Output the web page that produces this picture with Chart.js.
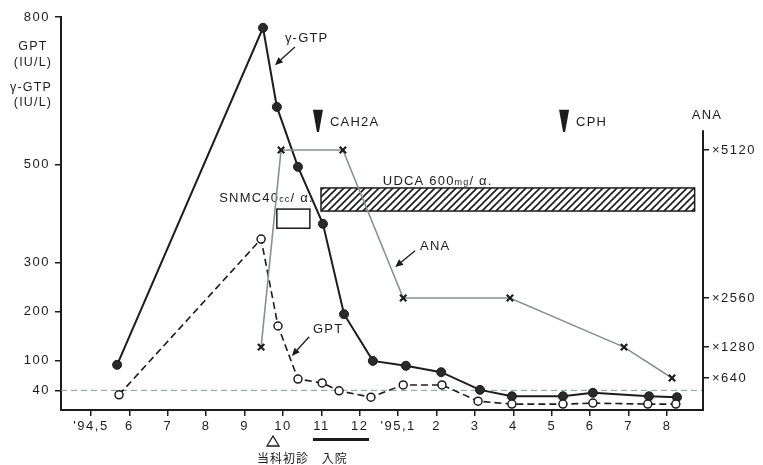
<!DOCTYPE html>
<html><head><meta charset="utf-8">
<script src="https://cdn.jsdelivr.net/npm/chart.js@4"></script>
<style>html,body{margin:0;padding:0;background:#fff}#wrap{width:763px;height:465px}</style>
</head><body><div id="wrap"><canvas id="c" width="763" height="465"></canvas></div>
<script>
// ---- data ----
const monthLabels = ["'94,5","6","7","8","9","10","11","12","'95,1","2","3","4","5","6","7","8"];
const monthTicks = [0,1,2,3,4,5,6,7,8,9,10,11,12,13,14,15];
const gtpMonths = [0.68,4.48,4.84,5.39,6.04,6.59,7.34,8.20,9.12,10.13,10.96,12.29,13.07,14.53,15.26];
const gtpValues = [92,778,617,495,379,195,100,90,77,41,28,28,35,28,26];
const gptMonths = [0.73,4.43,4.87,5.39,6.02,6.46,7.29,8.13,9.14,10.08,10.96,12.29,13.07,14.50,15.23];
const gptValues = [31,348,171,63,55,39,26,51,51,18,12,12,14,12,12];
const anaMonths = [4.43,4.95,6.56,8.13,10.91,13.88,15.13];
const anaTiters = [1280,5120,5120,2560,2560,1280,640];
const leftTicks = [40,100,200,300,500,800];
const anaTicks = [640,1280,2560,5120];
const refLevel = 40;

// ---- right-axis (ANA) transform: titer -> fraction of axis height ----
const anaAxisAnchors = [[0,0],[640,0.0814],[1280,0.160],[2560,0.285],[5120,0.6616],[10240,1.2]];
function anaFrac(t){
  for(let i=1;i<anaAxisAnchors.length;i++){
    const a=anaAxisAnchors[i-1], b=anaAxisAnchors[i];
    if(t<=b[0]) return a[1]+(t-a[0])/(b[0]-a[0])*(b[1]-a[1]);
  }
  return 1;
}

const FONT = "'Liberation Sans', Arial, sans-serif";
Chart.defaults.font.family = FONT;
Chart.defaults.font.size = 13;
Chart.defaults.color = '#222';
const INK = '#1c1c1c';

function arrow(ctx, x1,y1,x2,y2){
  ctx.save();
  ctx.strokeStyle=INK; ctx.fillStyle=INK; ctx.lineWidth=1.3;
  const ang=Math.atan2(y2-y1,x2-x1), L=8, W=3.5;
  const bx=x2-L*Math.cos(ang), by=y2-L*Math.sin(ang);
  ctx.beginPath(); ctx.moveTo(x1,y1); ctx.lineTo(bx,by); ctx.stroke();
  ctx.beginPath(); ctx.moveTo(x2,y2);
  ctx.lineTo(bx+W*Math.sin(ang), by-W*Math.cos(ang));
  ctx.lineTo(bx-W*Math.sin(ang), by+W*Math.cos(ang));
  ctx.closePath(); ctx.fill();
  ctx.restore();
}
function rich(ctx, parts, x, y, align){
  let total=0;
  parts.forEach(p=>{ctx.font=p[1]+'px '+FONT; total+=ctx.measureText(p[0]).width;});
  let cx = align==='right'? x-total : (align==='center'? x-total/2 : x);
  parts.forEach(p=>{ctx.font=p[1]+'px '+FONT; ctx.textAlign='left'; ctx.textBaseline='alphabetic';
    ctx.fillText(p[0],cx,y); cx+=ctx.measureText(p[0]).width;});
}

const annot = {
  id:'annot',
  beforeDraw(chart){ chart.ctx.letterSpacing='1.5px'; },
  beforeDatasetsDraw(chart){
    const ctx=chart.ctx, xs=chart.scales.x, ys=chart.scales.y;
    const X=m=>xs.getPixelForValue(m), Y=v=>ys.getPixelForValue(v);
    ctx.save();
    ctx.letterSpacing='1.2px';
    // reference line at 40
    ctx.strokeStyle='#7f9c9c'; ctx.lineWidth=1; ctx.setLineDash([6,4]);
    ctx.beginPath(); ctx.moveTo(chart.chartArea.left,Y(refLevel)); ctx.lineTo(chart.chartArea.right,Y(refLevel)); ctx.stroke();
    ctx.setLineDash([]);
    // UDCA hatched bar
    const pc=document.createElement('canvas'); pc.width=7; pc.height=7;
    const p=pc.getContext('2d'); p.strokeStyle=INK; p.lineWidth=1.6;
    p.beginPath(); p.moveTo(-1,8); p.lineTo(8,-1); p.moveTo(-1,1); p.lineTo(1,-1); p.moveTo(6,8); p.lineTo(8,6); p.stroke();
    const bx1=X(5.99), bx2=X(15.72), by1=Y(452), by2=Y(405);
    ctx.fillStyle=ctx.createPattern(pc,'repeat'); ctx.fillRect(bx1,by1,bx2-bx1,by2-by1);
    ctx.strokeStyle=INK; ctx.lineWidth=1.5; ctx.strokeRect(bx1,by1,bx2-bx1,by2-by1);
    // SNMC box
    ctx.lineWidth=1.5; ctx.strokeRect(X(4.84),Y(409),X(5.70)-X(4.84),Y(370)-Y(409));
    ctx.fillStyle=INK;
    rich(ctx,[['UDCA 600',13],['mg',9],['/ α.',13]],X(7.60),Y(466)+4,'left');
    rich(ctx,[['SNMC40',13],['cc',9],['/ α.',13]],X(5.80),Y(434)+5,'right');
    // triangles
    [[5.91,'CAH2A'],[12.32,'CPH']].forEach(([m,t])=>{
      const x=X(m);
      ctx.beginPath(); ctx.moveTo(x-5,Y(611)); ctx.lineTo(x+5,Y(611)); ctx.lineTo(x+1,Y(566)); ctx.lineTo(x-1,Y(566)); ctx.closePath(); ctx.fill();
      ctx.font='13px '+FONT; ctx.textAlign='left'; ctx.textBaseline='middle';
      ctx.fillText(t,x+12,Y(586));
    });
    // labels with arrows
    ctx.font='13px '+FONT; ctx.textBaseline='middle'; ctx.textAlign='left';
    ctx.fillText('γ-GTP',X(5.05),Y(757));
    arrow(ctx,X(5.31),Y(739),X(4.79),Y(702));
    ctx.fillText('ANA',X(8.57),Y(334));
    arrow(ctx,X(8.44),Y(324),X(7.92),Y(291));
    ctx.fillText('GPT',X(5.78),Y(165));
    arrow(ctx,X(5.68),Y(149),X(5.23),Y(110));
    ctx.restore();
  },
  afterDraw(chart){
    const ctx=chart.ctx, xs=chart.scales.x, ca=chart.chartArea;
    const X=m=>xs.getPixelForValue(m);
    ctx.save();
    ctx.letterSpacing='1.2px';
    ctx.fillStyle=INK; ctx.strokeStyle=INK;
    // right axis line (starts below top)
    const ya=chart.scales.yA;
    ctx.lineWidth=2; ctx.beginPath(); ctx.moveTo(ca.right,ya.getPixelForValue(0.712)); ctx.lineTo(ca.right,ca.bottom+1); ctx.stroke();
    ctx.font='13px '+FONT; ctx.textAlign='center'; ctx.textBaseline='middle';
    ctx.fillText('ANA',ca.right+4,ya.getPixelForValue(0.732)-7);
    // left axis title
    ctx.font='12.5px '+FONT;
    ctx.fillText('GPT',33,47); ctx.fillText('(IU/L)',33,63);
    ctx.fillText('γ-GTP',31,88); ctx.fillText('(IU/L)',33,103);
    // below-axis events
    const tx=X(4.74), ty=ca.bottom+26;
    ctx.lineWidth=1.3;
    ctx.beginPath(); ctx.moveTo(tx,ty); ctx.lineTo(tx+6,ty+10); ctx.lineTo(tx-6,ty+10); ctx.closePath(); ctx.stroke();
    ctx.fillRect(X(5.78),ca.bottom+28,X(7.24)-X(5.78),3);
    ctx.font='12px "Noto Sans CJK JP", sans-serif'; ctx.letterSpacing='1px';
    ctx.fillText('当科初診',X(5.0),ca.bottom+48);
    ctx.fillText('入院',X(6.35),ca.bottom+48);
    ctx.restore();
  }
};

const gtpData = gtpMonths.map((m,i)=>({x:m,y:gtpValues[i]}));
const gptData = gptMonths.map((m,i)=>({x:m,y:gptValues[i]}));
const anaData = anaMonths.map((m,i)=>({x:m,y:anaFrac(anaTiters[i])}));

new Chart(document.getElementById('c'),{
  type:'line',
  data:{datasets:[
    {label:'ANA',data:anaData,yAxisID:'yA',borderColor:'#8a9090',borderWidth:1.6,pointStyle:'crossRot',pointRadius:4.5,pointBorderColor:INK,pointBorderWidth:2.2,pointBackgroundColor:INK,tension:0,clip:false},
    {label:'GPT',data:gptData,yAxisID:'y',borderColor:INK,borderWidth:1.6,borderDash:[7,4],pointRadius:4,pointBorderWidth:1.5,pointBorderColor:INK,pointBackgroundColor:'#fff',tension:0,clip:false},
    {label:'γ-GTP',data:gtpData,yAxisID:'y',borderColor:INK,borderWidth:2,pointRadius:4.5,pointBorderWidth:1,pointBorderColor:INK,pointBackgroundColor:'#2a2a2a',tension:0,clip:false}
  ]},
  options:{
    responsive:false, devicePixelRatio:1, animation:false,
    layout:{padding:{top:17,left:0,right:0,bottom:0}},
    plugins:{legend:{display:false},tooltip:{enabled:false}},
    scales:{
      x:{type:'linear',min:-0.781,max:15.9375,
        afterBuildTicks:s=>{s.ticks=monthTicks.map(v=>({value:v}));},
        afterFit:s=>{s.height=55;},
        ticks:{callback:(v)=>monthLabels[monthTicks.indexOf(v)] ?? '',autoSkip:false,maxRotation:0,padding:3,font:{size:13},color:INK},
        grid:{drawOnChartArea:false,drawTicks:true,tickLength:6,color:INK,lineWidth:1.5},
        border:{display:true,color:INK,width:2}},
      y:{type:'linear',position:'left',min:0,max:800,
        afterBuildTicks:s=>{s.ticks=leftTicks.map(v=>({value:v}));},
        afterFit:s=>{s.width=61;},
        ticks:{autoSkip:false,padding:5,font:{size:13},color:INK},
        grid:{drawOnChartArea:false,drawTicks:true,tickLength:6,color:INK,lineWidth:1.5},
        border:{display:true,color:INK,width:2}},
      yA:{type:'linear',position:'right',min:0,max:1,
        afterBuildTicks:s=>{s.ticks=anaTicks.map(t=>({value:anaFrac(t)}));},
        afterFit:s=>{s.width=60;},
        ticks:{autoSkip:false,padding:3,font:{size:13},color:INK,
          callback:(v)=>{const i=anaTicks.findIndex(t=>Math.abs(anaFrac(t)-v)<1e-6);return i>=0?'×'+anaTicks[i]:'';}},
        grid:{drawOnChartArea:false,drawTicks:true,tickLength:6,color:INK,lineWidth:1.5},
        border:{display:false}}
    }
  },
  plugins:[annot]
});
</script></body></html>
